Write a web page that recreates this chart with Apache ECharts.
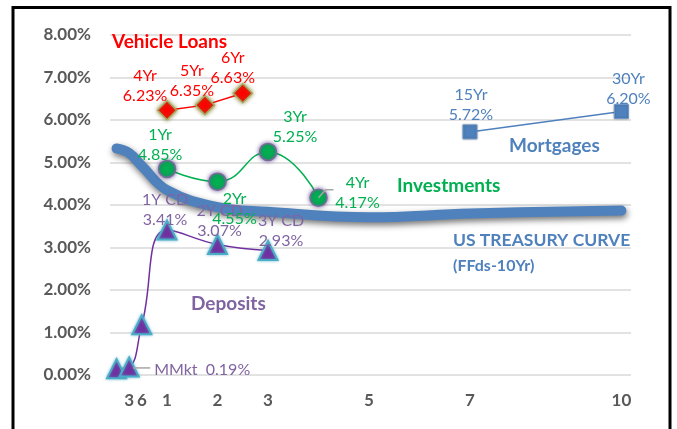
<!DOCTYPE html>
<html>
<head>
<meta charset="utf-8">
<script src="https://cdn.jsdelivr.net/npm/echarts@6/dist/echarts.min.js"></script>
<style>
html, body { margin: 0; padding: 0; background: #fff; }
#chart { width: 677px; height: 429px; }
</style>
</head>
<body>
<div id="chart"></div>
<script>
// x axis: term in years (3 and 6 are months)
var xTickValues = [0.25, 0.5, 1, 2, 3, 5, 7, 10]
var xTickLabels = ['3', '6', '1', '2', '3', '5', '7', '10']

var treasuryTerms = [0, 0.25, 0.5, 1, 2, 3, 5, 7, 10]
var treasuryRates = [5.33, 5.22, 4.92, 4.35, 3.95, 3.84, 3.71, 3.80, 3.87]

var depositTerms = [0, 0.25, 0.5, 1, 2, 3]
var depositRates = [0.15, 0.19, 1.18, 3.41, 3.07, 2.93]
var depositNames = ['', 'MMkt', '', '1Y CD', '2Y CD', '3Y CD']

var investTerms = [1, 2, 3, 4]
var investRates = [4.85, 4.55, 5.25, 4.17]
var investNames = ['1Yr', '2Yr', '3Yr', '4Yr']

var vehicleTerms = [1, 1.75, 2.5]
var vehicleRates = [6.23, 6.35, 6.63]
var vehicleNames = ['4Yr', '5Yr', '6Yr']

var mortgageTerms = [7, 10]
var mortgageRates = [5.72, 6.20]
var mortgageNames = ['15Yr', '30Yr']

// label placement (pixels from the point)
var depositLabelPos = [null, [73, 3], null, [-2, -20], [2, -24], [13, -20]]
var investLabelPos = [[-7, -24], [17, 27], [27, -25], [39, -5]]
var vehicleLabelPos = [[-22, -24], [-13, -24], [-10, -25]]
var mortgageLabelPos = [[1, -27], [7, -23]]

var FONT = 'Lato'

function points(terms, rates, names, pos, color) {
  return terms.map(function (t, i) {
    var item = { value: [t, rates[i]], name: names[i] }
    if (pos && pos[i]) {
      item.label = { show: true, position: 'inside', offset: pos[i], color: color }
    }
    return item
  })
}

function labelText(p) {
  if (p.name === 'MMkt') return 'MMkt  ' + p.value[1].toFixed(2) + '%'
  return p.name + '\n' + p.value[1].toFixed(2) + '%'
}

var baseLabel = {
  show: false,
  formatter: labelText,
  fontFamily: FONT,
  fontSize: 16,
  lineHeight: 20
}

var texts = [
  { text: 'Vehicle Loans', x: 112, y: 42, color: '#ff0000', size: 19 },
  { text: 'Mortgages', x: 509, y: 146, color: '#4f81bd', size: 19 },
  { text: 'Investments', x: 397, y: 186, color: '#00b050', size: 19 },
  { text: 'US TREASURY CURVE', x: 453, y: 240, color: '#4f81bd', size: 17.5 },
  { text: '(FFds-10Yr)', x: 453, y: 266, color: '#4f81bd', size: 16 },
  { text: 'Deposits', x: 191, y: 304, color: '#8064a2', size: 19 }
]

var graphicBase = [{
  type: 'rect',
  z: 100,
  shape: { x: 13, y: 7.5, width: 657, height: 440 },
  style: { fill: 'none', stroke: '#000', lineWidth: 3 }
}].concat(texts.map(function (t) {
  return {
    type: 'text',
    x: t.x,
    y: t.y,
    z: 50,
    style: {
      text: t.text,
      fill: t.color,
      font: 'bold ' + t.size + 'px ' + FONT,
      verticalAlign: 'middle'
    }
  }
}))

var chart = echarts.init(document.getElementById('chart'))

var option = {
  backgroundColor: '#fff',
  animation: false,
  grid: { left: 110, right: 46, top: 35, bottom: 54 },
  xAxis: {
    type: 'value',
    min: -0.13,
    max: 10.19,
    axisLine: { show: false },
    axisTick: { show: false },
    splitLine: { show: false },
    axisLabel: {
      customValues: xTickValues,
      formatter: function (v) {
        var i = xTickValues.indexOf(v)
        return i >= 0 ? xTickLabels[i] : ''
      },
      margin: 17,
      color: '#595959',
      fontFamily: FONT,
      fontWeight: 'bold',
      fontSize: 17
    }
  },
  yAxis: {
    type: 'value',
    min: 0,
    max: 8,
    interval: 1,
    axisLine: { show: false },
    axisTick: { show: false },
    splitLine: { lineStyle: { color: '#d9d9d9', width: 1.5 } },
    axisLabel: {
      formatter: function (v) { return v.toFixed(2) + '%' },
      margin: 19,
      color: '#595959',
      fontFamily: FONT,
      fontWeight: 'bold',
      fontSize: 17
    }
  },
  series: [
    {
      name: 'US Treasury',
      type: 'line',
      z: 1,
      smooth: 0.4,
      symbol: 'none',
      data: treasuryTerms.map(function (t, i) { return [t, treasuryRates[i]] }),
      lineStyle: {
        color: '#4f81bd',
        width: 10,
        cap: 'round',
        shadowColor: 'rgba(0,0,0,0.55)',
        shadowBlur: 6,
        shadowOffsetX: 1,
        shadowOffsetY: 3
      }
    },
    {
      name: 'Deposits',
      type: 'line',
      z: 3,
      smooth: 0.45,
      symbol: 'triangle',
      symbolSize: 19,
      data: points(depositTerms, depositRates, depositNames, depositLabelPos, '#8064a2'),
      lineStyle: { color: '#7030a0', width: 1.5 },
      itemStyle: {
        color: '#7030a0',
        borderColor: '#4bacc6',
        borderWidth: 2,
        shadowColor: 'rgba(75,172,198,0.7)',
        shadowBlur: 3
      },
      label: baseLabel
    },
    {
      name: 'Investments',
      type: 'line',
      z: 3,
      smooth: 0.5,
      symbol: 'circle',
      symbolSize: 17,
      data: points(investTerms, investRates, investNames, investLabelPos, '#00b050'),
      lineStyle: { color: '#00b050', width: 1.5 },
      itemStyle: {
        color: '#00b050',
        borderColor: '#7a6a9c',
        borderWidth: 1.5,
        shadowColor: 'rgba(90,70,140,0.8)',
        shadowBlur: 4
      },
      label: baseLabel
    },
    {
      name: 'Vehicle Loans',
      type: 'line',
      z: 3,
      symbol: 'diamond',
      symbolSize: 19,
      data: points(vehicleTerms, vehicleRates, vehicleNames, vehicleLabelPos, '#ff0000'),
      lineStyle: { color: '#ff0000', width: 1.5 },
      itemStyle: {
        color: '#ff0000',
        borderColor: '#a8a860',
        borderWidth: 1.5,
        shadowColor: 'rgba(120,120,40,0.8)',
        shadowBlur: 4
      },
      label: baseLabel
    },
    {
      name: 'Mortgages',
      type: 'line',
      z: 3,
      symbol: 'rect',
      symbolSize: 14,
      data: points(mortgageTerms, mortgageRates, mortgageNames, mortgageLabelPos, '#4f81bd'),
      lineStyle: { color: '#4f81bd', width: 1.5 },
      itemStyle: {
        color: '#4f81bd',
        borderColor: '#6f97c9',
        borderWidth: 1,
        shadowColor: 'rgba(0,0,0,0.3)',
        shadowBlur: 2
      },
      label: baseLabel
    }
  ],
  graphic: graphicBase
}

chart.setOption(option)

// leader lines for the MMkt and 4Yr labels
var pm = chart.convertToPixel({ seriesIndex: 1 }, [depositTerms[1], depositRates[1]])
var pi = chart.convertToPixel({ seriesIndex: 2 }, [investTerms[3], investRates[3]])
chart.setOption({
  graphic: graphicBase.concat([
    {
      type: 'polyline',
      z: 60,
      shape: { points: [[pm[0] + 4, pm[1] + 1], [pm[0] + 21, pm[1] + 1]] },
      style: { stroke: '#a6a6a6', lineWidth: 1.5, fill: 'none' }
    },
    {
      type: 'polyline',
      z: 60,
      shape: { points: [[pi[0], pi[1]], [pi[0] + 7, pi[1] - 8], [pi[0] + 15, pi[1] - 8]] },
      style: { stroke: '#a6a6a6', lineWidth: 1.5, fill: 'none' }
    }
  ])
})
</script>
</body>
</html>
